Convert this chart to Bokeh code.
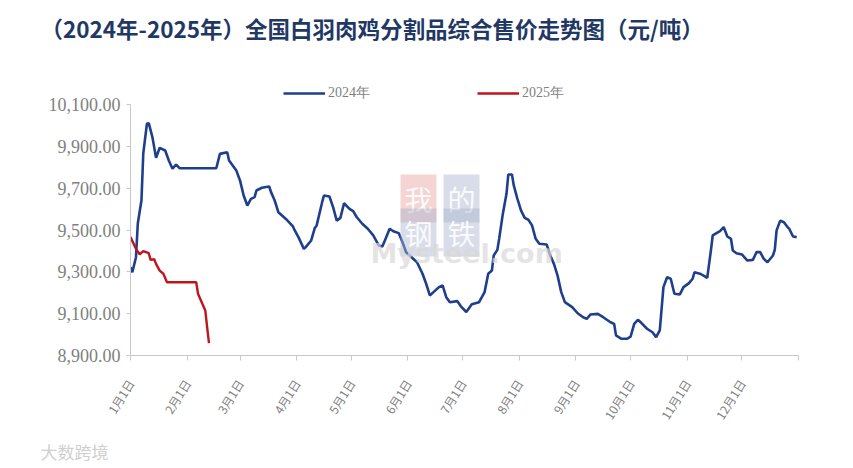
from bokeh.plotting import figure
from bokeh.models import (FixedTicker, NumeralTickFormatter, Legend, LegendItem,
                          Label, Range1d)
from bokeh.layouts import column
from bokeh.embed import file_html
from bokeh.resources import INLINE
import math

# ---- data (day of year offset from Jan 1, price in 元/吨) ----
days_2024 = [0, 1, 3, 4, 6, 7, 9, 10, 12, 14, 16, 19, 21, 23, 25, 27, 47, 49, 53, 54,
             58, 60, 62, 64, 66, 68, 69, 72, 76, 77, 79, 81, 85, 89, 90, 92, 95, 96, 99, 101,
             102, 105, 106, 109, 111, 113, 115, 117, 120, 122, 124, 127, 130, 133, 136, 138, 140, 142, 144, 147,
             149, 151, 154, 157, 160, 162, 164, 166, 169, 171, 173, 175, 179, 181, 184, 187, 191, 194, 196, 198,
             199, 201, 202, 204, 206, 207, 209, 210, 212, 214, 216, 218, 220, 222, 224, 228, 230, 232, 234, 236,
             238, 242, 245, 248, 250, 252, 256, 259, 263, 265, 266, 269, 272, 274, 276, 278, 280, 283, 286, 288,
             290, 292, 294, 296, 298, 301, 303, 306, 308, 309, 312, 314, 316, 318, 319, 322, 323, 325, 327, 329,
             330, 332, 335, 338, 341, 343, 345, 347, 349, 352, 353, 354, 356, 358, 360, 361, 363, 365]
price_2024 = [9322, 9298, 9370, 9531, 9641, 9866, 10008, 10011, 9944, 9845, 9893, 9880, 9832, 9793, 9813, 9795, 9795, 9864, 9872, 9832,
              9784, 9737, 9665, 9617, 9649, 9657, 9689, 9702, 9708, 9681, 9641, 9585, 9554, 9517, 9498, 9466, 9410, 9418, 9450, 9510,
              9522, 9633, 9665, 9660, 9609, 9545, 9558, 9628, 9601, 9590, 9561, 9530, 9506, 9474, 9426, 9421, 9463, 9506, 9494, 9485,
              9442, 9394, 9370, 9346, 9291, 9243, 9187, 9203, 9227, 9235, 9179, 9155, 9160, 9135, 9108, 9145, 9155, 9203, 9291, 9306,
              9378, 9405, 9458, 9577, 9673, 9765, 9765, 9713, 9649, 9593, 9558, 9549, 9522, 9458, 9434, 9431, 9378, 9338, 9282, 9203,
              9155, 9131, 9102, 9083, 9075, 9096, 9099, 9083, 9059, 9051, 8996, 8980, 8980, 8990, 9051, 9071, 9055, 9028, 9011, 8988,
              9020, 9227, 9274, 9267, 9195, 9192, 9227, 9246, 9267, 9298, 9291, 9282, 9271, 9402, 9474, 9490, 9495, 9514, 9469, 9458,
              9402, 9389, 9383, 9354, 9357, 9394, 9394, 9362, 9346, 9378, 9405, 9498, 9545, 9537, 9514, 9505, 9469, 9466]

days_2025 = [0, 3, 5, 7, 10, 11, 13, 14, 16, 18, 20, 36, 37, 39, 41, 42, 43]
price_2025 = [9466, 9410, 9383, 9399, 9389, 9357, 9360, 9338, 9306, 9291, 9250, 9250, 9195, 9155, 9115, 9035, 8959]

month_start_days = [0, 31, 60, 91, 121, 152, 182, 213, 244, 274, 305, 335, 366]
month_labels = ["1月1日", "2月1日", "3月1日", "4月1日", "5月1日", "6月1日",
                "7月1日", "8月1日", "9月1日", "10月1日", "11月1日", "12月1日", ""]
y_ticks = [8900, 9100, 9300, 9500, 9700, 9900, 10100]
series_names = ["2024年", "2025年"]
title_text = "（2024年-2025年）全国白羽肉鸡分割品综合售价走势图（元/吨）"

BLUE = "#1f3f8c"
RED = "#c0141c"
GRAY = "#7f7f7f"
AXIS = "#c8c8c8"

# ---- layout constants (pixels) ----
W = 845
HEADER_H = 80
FOOTER_H = 36
MAIN_H = 350
BORDER_L, BORDER_R, BORDER_B = 130, 47, 75
AXIS_PX = 251                       # pixel height of the 8,900 .. 10,100 span
FRAME_H = MAIN_H - BORDER_B         # frame reaches to the top of the main figure
y_lo, y_hi = y_ticks[0], y_ticks[-1]
y_top = y_lo + FRAME_H * (y_hi - y_lo) / AXIS_PX


def bare(height):
    f = figure(width=W, height=height, output_backend="svg", toolbar_location=None,
               x_range=Range1d(0, W), y_range=Range1d(0, height),
               x_axis_type=None, y_axis_type=None,
               min_border=0, min_border_left=0, min_border_right=0,
               min_border_top=0, min_border_bottom=0)
    f.outline_line_color = None
    f.grid.visible = False
    f.frame_align = False
    return f


# ---------------- header: title ----------------
header = bare(HEADER_H)
header.add_layout(Label(x=40, y=HEADER_H - 27, text=title_text,
                        text_font="Noto Sans CJK SC", text_font_size="22.5px",
                        text_font_style="bold", text_color="#1f3864",
                        text_baseline="middle"))

# ---------------- main chart ----------------
p = figure(width=W, height=MAIN_H, output_backend="svg", toolbar_location=None,
           x_range=Range1d(0, 366), y_range=Range1d(y_lo, y_top),
           min_border_left=BORDER_L, min_border_right=BORDER_R,
           min_border_top=0, min_border_bottom=BORDER_B)
p.frame_align = False
p.outline_line_color = None
p.xgrid.visible = False
p.ygrid.visible = False

p.yaxis.ticker = FixedTicker(ticks=y_ticks)
p.yaxis.bounds = (y_lo, y_hi)
p.yaxis.formatter = NumeralTickFormatter(format="0,0.00")
p.yaxis.major_label_text_font = "Liberation Serif"
p.yaxis.major_label_text_font_size = "18px"
p.yaxis.major_label_text_color = GRAY
p.yaxis.axis_line_color = AXIS
p.yaxis.major_tick_line_color = AXIS
p.yaxis.major_tick_out = 4
p.yaxis.major_tick_in = 0
p.yaxis.minor_tick_line_color = None
p.yaxis.major_label_standoff = 6

p.xaxis.ticker = FixedTicker(ticks=month_start_days)
p.xaxis.major_label_overrides = {d: l for d, l in zip(month_start_days, month_labels)}
p.xaxis.major_label_orientation = math.radians(58)
p.xaxis.major_label_text_font = "Noto Sans CJK SC"
p.xaxis.major_label_text_font_size = "12px"
p.xaxis.major_label_text_color = GRAY
p.xaxis.axis_line_color = AXIS
p.xaxis.major_tick_line_color = AXIS
p.xaxis.major_tick_out = 5
p.xaxis.major_tick_in = 0
p.xaxis.minor_tick_line_color = None
p.xaxis.major_label_standoff = 20

# faint Mysteel watermark
wm = [("我", 270, 133, "#e8a0a0"), ("的", 313, 133, "#a9b4cf"),
      ("钢", 270, 99, "#a9b4cf"), ("铁", 313, 99, "#a9b4cf")]
for ch, x, y, bg in wm:
    p.add_layout(Label(x=x, y=y, x_units="screen", y_units="screen", text=ch,
                       text_font="Noto Sans CJK SC", text_font_size="28px",
                       text_color="white", text_alpha=0.9,
                       background_fill_color=bg, background_fill_alpha=0.45,
                       padding=4))
p.add_layout(Label(x=240, y=87, x_units="screen", y_units="screen", text="Mysteel.com",
                   text_font="DejaVu Sans", text_font_size="27px", text_font_style="bold",
                   text_color="#d8d8d8", text_alpha=0.7))

r1 = p.line(days_2024, price_2024, line_color=BLUE, line_width=2.6)
r2 = p.line(days_2025, price_2025, line_color=RED, line_width=2.4)

legend = Legend(items=[LegendItem(label=series_names[0], renderers=[r1]),
                       LegendItem(label=series_names[1], renderers=[r2])],
                orientation="horizontal", location=(153, 253),
                padding=0, margin=0, spacing=107, glyph_width=42, glyph_height=12,
                label_height=12, label_standoff=3,
                label_text_font="Liberation Serif", label_text_font_size="14px",
                label_text_color=GRAY, background_fill_alpha=0, border_line_color=None)
p.add_layout(legend)

# ---------------- footer: source mark ----------------
footer = bare(FOOTER_H)
footer.add_layout(Label(x=40, y=FOOTER_H - 21, text="大数跨境", text_font="Noto Sans CJK SC",
                        text_font_size="17px", text_color="#cfcfcf",
                        text_baseline="middle"))

layout = column(header, p, footer, spacing=0)
open("out.html", "w").write(file_html(layout, INLINE))
